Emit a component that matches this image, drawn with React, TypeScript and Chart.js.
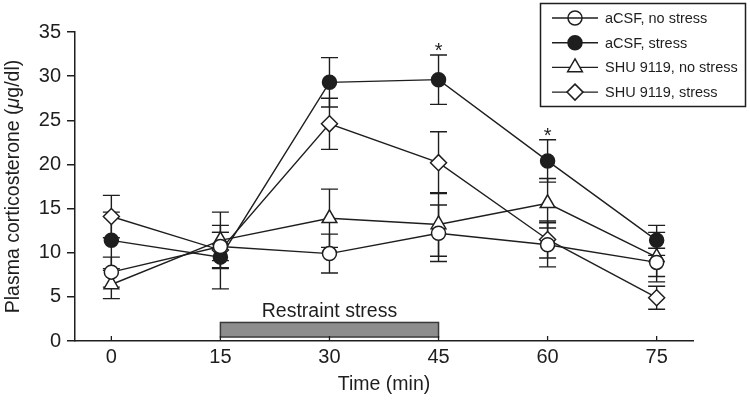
import React, { useEffect, useRef } from 'react';
import { Chart, registerables } from 'chart.js';

Chart.register(...registerables);

// ---- data ----
const times = [0, 15, 30, 45, 60, 75];
const xTicks = [0, 15, 30, 45, 60, 75];
const seriesNames = ['aCSF, no stress', 'aCSF, stress', 'SHU 9119, no stress', 'SHU 9119, stress'];
const acsfNoStress = [7.8, 10.7, 9.9, 12.2, 10.9, 8.9];
const acsfNoStressErr = [1.7, 1.6, 2.2, 3.2, 2.5, 1.6];
const acsfStress = [11.4, 9.5, 29.3, 29.6, 20.4, 11.4];
const acsfStressErr = [3.2, 3.6, 2.8, 2.8, 2.4, 1.7];
const shuNoStress = [6.4, 11.4, 13.9, 13.2, 15.6, 9.5];
const shuNoStressErr = [1.6, 3.2, 3.3, 3.6, 2.8, 2.8];
const shuStress = [14.1, 10.3, 24.6, 20.2, 11.5, 4.9];
const shuStressErr = [2.4, 2.0, 2.9, 3.5, 2.1, 1.3];
const stressStart = 15;
const stressEnd = 45;
const stressBarLow = 0.45;
const stressBarHigh = 2.1;
const stressLabel = 'Restraint stress';
const asteriskTimes = [45, 60];
const xTitle = 'Time (min)';
const yTitleParts = ['Plasma corticosterone (', 'μ', 'g/dl)'];

const INK = '#1e1e1e';
const FONT = '"Liberation Sans", Arial, sans-serif';

const values = [acsfNoStress, acsfStress, shuNoStress, shuStress];
const errors = [acsfNoStressErr, acsfStressErr, shuNoStressErr, shuStressErr];
const styles = [
  { pointStyle: 'circle', radius: 7, fill: '#ffffff' },
  { pointStyle: 'circle', radius: 7, fill: INK },
  { pointStyle: 'triangle', radius: 8.5, fill: '#ffffff' },
  { pointStyle: 'rectRot', radius: 8, fill: '#ffffff' },
];

function drawMarker(ctx: CanvasRenderingContext2D, style: string, x: number, y: number, r: number, fill: string | null) {
  ctx.beginPath();
  if (style === 'circle') {
    ctx.arc(x, y, r, 0, Math.PI * 2);
  } else if (style === 'triangle') {
    const h = r * 1.5;
    const w = r * Math.sqrt(3);
    ctx.moveTo(x, y - r);
    ctx.lineTo(x + w / 2, y - r + h);
    ctx.lineTo(x - w / 2, y - r + h);
    ctx.closePath();
  } else {
    ctx.moveTo(x, y - r);
    ctx.lineTo(x + r, y);
    ctx.lineTo(x, y + r);
    ctx.lineTo(x - r, y);
    ctx.closePath();
  }
  if (fill) {
    ctx.fillStyle = fill;
    ctx.fill();
  }
  ctx.strokeStyle = INK;
  ctx.lineWidth = 1.5;
  ctx.stroke();
}

const decorPlugin = {
  id: 'decor',
  beforeDatasetsDraw(chart: any) {
    const { ctx, scales } = chart;
    const xs = scales.x;
    const ys = scales.y;
    ctx.save();
    // restraint bar
    const bx0 = xs.getPixelForValue(stressStart);
    const bx1 = xs.getPixelForValue(stressEnd);
    const by0 = ys.getPixelForValue(stressBarHigh);
    const by1 = ys.getPixelForValue(stressBarLow);
    ctx.fillStyle = '#8d8d8d';
    ctx.fillRect(bx0, by0, bx1 - bx0, by1 - by0);
    ctx.strokeStyle = '#3a3a3a';
    ctx.lineWidth = 1.5;
    ctx.strokeRect(bx0, by0, bx1 - bx0, by1 - by0);
    // inside ticks on x axis
    const axisY = ys.getPixelForValue(0);
    ctx.strokeStyle = INK;
    ctx.lineWidth = 1.3;
    xTicks.forEach((t) => {
      const px = xs.getPixelForValue(t);
      ctx.beginPath();
      ctx.moveTo(px, axisY);
      ctx.lineTo(px, axisY - 5);
      ctx.stroke();
    });
    // error bars
    ctx.strokeStyle = INK;
    ctx.lineWidth = 1.4;
    values.forEach((vals, si) => {
      vals.forEach((v, i) => {
        const e = errors[si][i];
        const px = xs.getPixelForValue(times[i]);
        const top = ys.getPixelForValue(v + e);
        const bot = ys.getPixelForValue(v - e);
        ctx.beginPath();
        ctx.moveTo(px, top);
        ctx.lineTo(px, bot);
        ctx.moveTo(px - 8.5, top);
        ctx.lineTo(px + 8.5, top);
        ctx.moveTo(px - 8.5, bot);
        ctx.lineTo(px + 8.5, bot);
        ctx.stroke();
      });
    });
    ctx.restore();
  },
  afterDatasetsDraw(chart: any) {
    const { ctx, scales } = chart;
    const xs = scales.x;
    const ys = scales.y;
    ctx.save();
    ctx.fillStyle = INK;
    // restraint label
    const bx0 = xs.getPixelForValue(stressStart);
    const bx1 = xs.getPixelForValue(stressEnd);
    const by0 = ys.getPixelForValue(stressBarHigh);
    ctx.font = `19.5px ${FONT}`;
    ctx.textAlign = 'center';
    ctx.textBaseline = 'alphabetic';
    ctx.fillText(stressLabel, (bx0 + bx1) / 2, by0 - 5);
    // asterisks
    ctx.font = `20px ${FONT}`;
    asteriskTimes.forEach((t) => {
      const i = times.indexOf(t);
      const capY = ys.getPixelForValue(acsfStress[i] + acsfStressErr[i]);
      ctx.fillText('*', xs.getPixelForValue(t), capY + 2);
    });
    // x title
    ctx.font = `19.5px ${FONT}`;
    ctx.textBaseline = 'middle';
    ctx.fillText(xTitle, (chart.chartArea.left + chart.chartArea.right) / 2, 385);
    // y title (rotated, italic mu)
    ctx.save();
    ctx.translate(14, (chart.chartArea.top + chart.chartArea.bottom) / 2);
    ctx.rotate(-Math.PI / 2);
    const fonts = [`19.5px ${FONT}`, `italic 19.5px ${FONT}`, `19.5px ${FONT}`];
    let total = 0;
    const widths = yTitleParts.map((p, k) => {
      ctx.font = fonts[k];
      const w = ctx.measureText(p).width;
      total += w;
      return w;
    });
    let cx = -total / 2;
    ctx.textAlign = 'left';
    yTitleParts.forEach((p, k) => {
      ctx.font = fonts[k];
      ctx.fillText(p, cx, 0);
      cx += widths[k];
    });
    ctx.restore();
    // legend
    const lx = 540.5, ly = 3.5, lw = 205, lh = 103;
    ctx.fillStyle = '#ffffff';
    ctx.fillRect(lx, ly, lw, lh);
    ctx.strokeStyle = INK;
    ctx.lineWidth = 1.5;
    ctx.strokeRect(lx, ly, lw, lh);
    seriesNames.forEach((name, k) => {
      const ry = 18 + k * 24.7;
      ctx.strokeStyle = INK;
      ctx.lineWidth = 1.4;
      ctx.beginPath();
      ctx.moveTo(552, ry);
      ctx.lineTo(598, ry);
      ctx.stroke();
      const st = styles[k];
      drawMarker(ctx, st.pointStyle, 575, ry, st.radius, k === 0 ? null : st.fill);
      ctx.fillStyle = INK;
      ctx.font = `14.5px ${FONT}`;
      ctx.textAlign = 'left';
      ctx.textBaseline = 'middle';
      ctx.fillText(name, 605, ry + 1);
    });
    ctx.restore();
  },
};

export default function App() {
  const ref = useRef<HTMLCanvasElement | null>(null);
  useEffect(() => {
    if (!ref.current) return;
    const chart = new Chart(ref.current, {
      type: 'line',
      data: {
        datasets: values.map((vals, si) => ({
          label: seriesNames[si],
          data: times.map((t, i) => ({ x: t, y: vals[i] })),
          borderColor: INK,
          borderWidth: 1.4,
          tension: 0,
          fill: false,
          pointStyle: styles[si].pointStyle as any,
          pointRadius: styles[si].radius,
          pointBackgroundColor: styles[si].fill,
          pointBorderColor: INK,
          pointBorderWidth: 1.5,
        })),
      },
      options: {
        animation: false,
        responsive: false,
        devicePixelRatio: 1,
        layout: { padding: { top: 32, right: 57, left: 0, bottom: 0 } },
        plugins: { legend: { display: false }, tooltip: { enabled: false } },
        scales: {
          x: {
            type: 'linear',
            min: -5,
            max: 80,
            afterBuildTicks: (s: any) => {
              s.ticks = xTicks.map((v) => ({ value: v }));
            },
            afterFit: (s: any) => {
              s.height = 64;
            },
            grid: { display: false, drawTicks: false, tickLength: 0 },
            border: { display: true, color: INK, width: 1.5 },
            ticks: { color: INK, font: { family: FONT, size: 20 }, padding: 4, maxRotation: 0 },
          },
          y: {
            type: 'linear',
            min: 0,
            max: 35,
            afterFit: (s: any) => {
              s.width = 75;
            },
            grid: { display: true, drawOnChartArea: false, tickLength: 8, color: INK, lineWidth: 1.5 },
            border: { display: true, color: INK, width: 1.5 },
            ticks: { stepSize: 5, color: INK, font: { family: FONT, size: 20 }, padding: 6 },
          },
        },
      },
      plugins: [decorPlugin],
    });
    return () => chart.destroy();
  }, []);
  return (
    <div style={{ position: 'fixed', left: 0, top: 0, width: 750, height: 405, background: '#fff' }}>
      <canvas ref={ref} width={750} height={405} />
    </div>
  );
}
